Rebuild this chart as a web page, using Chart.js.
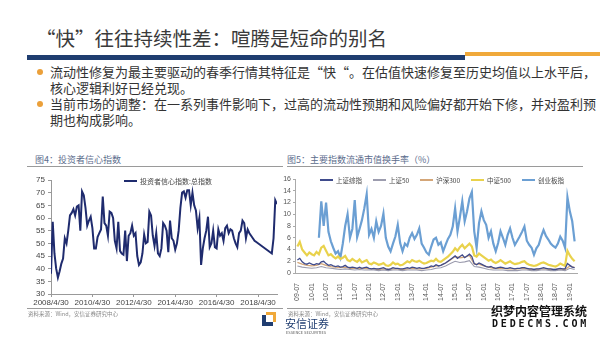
<!DOCTYPE html>
<html>
<head>
<meta charset="utf-8">
<script src="https://cdn.jsdelivr.net/npm/chart.js@4"></script>
<style>
    body { margin: 0; width: 600px; height: 338px; background: #fff; overflow: hidden; position: relative;
           font-family: "Noto Sans CJK SC", "Noto Sans", sans-serif; color: #333; }
    .abs { position: absolute; white-space: nowrap; }
    .title { left: 36px; top: 23px; font-size: 19.5px; color: #3a3a3a; }
    .bar-blue { left: 27px; top: 55px; width: 438px; height: 5px; background: #1f3d70; }
    .bar-orange { left: 465px; top: 52px; width: 135px; height: 4px; background: #f0a93a; }
    .dot { width: 6px; height: 6px; border-radius: 3px; background: #eba03a; }
    .bullet { left: 50px; font-size: 13px; line-height: 16px; color: #333; }
    .ctitle { font-size: 9px; color: #5b6c8c; top: 153px; }
    .rule { height: 1px; background: #9a9a9a; }
    .src { font-size: 5.5px; color: #888; top: 310px; }
    .legend { font-size: 6.5px; color: #444; display: flex; align-items: center; }
    .legend span.ln { display: inline-block; width: 13px; height: 1.5px; margin-right: 3px; }
    .legend .item { display: flex; align-items: center; margin-right: 11px; }
    canvas { position: absolute; }
</style>
</head>
<body>
<div class="abs title">“快”往往持续性差：喧腾是短命的别名</div>
<div class="abs bar-blue"></div>
<div class="abs bar-orange"></div>

<div class="abs dot" style="left:37px; top:69px;"></div>
<div class="abs bullet" style="top:64px;">流动性修复为最主要驱动的春季行情其特征是“快“。在估值快速修复至历史均值以上水平后，<br>核心逻辑利好已经兑现。</div>
<div class="abs dot" style="left:37px; top:101px;"></div>
<div class="abs bullet" style="top:96px;">当前市场的调整：在一系列事件影响下，过高的流动性预期和风险偏好都开始下修，并对盈利预<br>期也构成影响。</div>

<div class="abs ctitle" style="left:35px;">图4：投资者信心指数</div>
<div class="abs ctitle" style="left:287px;">图5：主要指数流通市值换手率（%）</div>
<div class="abs rule" style="left:27px; top:166px; width:256px;"></div>
<div class="abs rule" style="left:287px; top:166px; width:296px;"></div>

<canvas id="leftChart" style="left:0px; top:168px;" width="290" height="145"></canvas>
<canvas id="rightChart" style="left:280px; top:168px;" width="310" height="135"></canvas>

<div class="abs legend" id="leftLegend" style="left:124px; top:176px; font-size:7px;"></div>
<div class="abs legend" id="rightLegend" style="left:320px; top:175px;"></div>

<div class="abs rule" style="left:27px; top:308px; width:256px;"></div>
<div class="abs rule" style="left:287px; top:308px; width:296px;"></div>
<div class="abs src" style="left:28px;">资料来源：Wind，安信证券研究中心</div>
<div class="abs src" style="left:288px;">资料来源：Wind，安信证券研究中心</div>

<!-- logo -->
<div class="abs" style="left:262px; top:312px; width:14px; height:14px;">
    <div class="abs" style="left:0; top:3px; width:4px; height:11px; background:#1f3d70;"></div>
    <div class="abs" style="left:0; top:10px; width:11px; height:4px; background:#1f3d70;"></div>
    <div class="abs" style="left:4px; top:0; width:10px; height:3px; background:#f0a93a;"></div>
    <div class="abs" style="left:11px; top:0; width:3px; height:10px; background:#f0a93a;"></div>
</div>
<div class="abs" style="left:285px; top:315px; font-size:11px; color:#1f3d70;">安信证券</div>
<div class="abs" style="left:286px; top:329px; font-size:4px; color:#555;">ESSENCE SECURITIES</div>

<!-- watermark -->
<div class="abs" style="left:491px; top:302px; font-size:12px; font-weight:bold; color:#111; text-shadow:0 0 2px #fff;">织梦内容管理系统</div>
<div class="abs" style="left:492px; top:318px; font-size:10px; font-weight:bold; letter-spacing:2.8px; color:#111; font-family:'DejaVu Sans Mono', monospace;">DEDECMS.COM</div>

<script>
// 投资者信心指数:总指数, monthly from 2008/4 to 2019/3 (null = no data)
const confidence = [
    38, 58.5, 46, 40, 36.5, 39, 42, 44, 52, 50, 55, 61, 62, 63.5, 61, 64.5, 65, 55, 70.5, 69,
    64, 57, 59, 60.5, 56, 48, 48, 52.5, 54, 55.5, 68.5,
    58, 57, 53, 62.5, 62, 60, 51, 48, 58.5, 47,
    46, 45.5, 55, 43, 53, 54, 57, 53, 54, 45,
    41.5, 42.5, 46, 53.5, 50, 50.5, 62.5, 61, 53, 49,
    54, 46, 45, 48, 58, 57, 55, 46.5, 59, 52,
    51, 47.5, 50, 55, 64, 70, 70.5, 68, 71, 71,
    65, 70, 65, 63, 56, 60, 41.5, 48, 52, 55,
    60.5, 48.5, 50, 55, 48.5, 48, 55.5, 53, 54, 51,
    56, 57, 54, 55.5, 55, 52, 50, 48.5, 54, 55,
    59, 58, 52, 55.5, 54, 53, 52, 51, 50.5,
    null, null, null, null, null, null, null, null,
    46, 52, 67, 65.5
];
const leftTicks = ['2008/4/30', '2010/4/30', '2012/4/30', '2014/4/30', '2016/4/30', '2018/4/30'];
const leftSeriesName = '投资者信心指数:总指数';

// 换手率 (%), months since 2009-07
const rightTicks = ['09-07', '10-01', '10-07', '11-01', '11-07', '12-01', '12-07', '13-01', '13-07', '14-01',
                    '14-07', '15-01', '15-07', '16-01', '16-07', '17-01', '17-07', '18-01', '18-07', '19-01'];
const seriesNames = ['上证综指', '上证50', '沪深300', '中证500', '创业板指'];
const seriesColors = ['#3f4b8c', '#9c9cae', '#d4a678', '#e9d24c', '#6b9fd3'];

const szzz = [
    2.2, 2.5, 1.9, 1.6, 1.5, 1.7, 1.5, 1.4, 1.6, 1.5,
    1.9, 2.0, 1.6, 1.3, 1.4, 1.2, 1.1, 1.2, 1.0, 1.1,
    1.3, 1.0, 0.9, 1.0, 0.9, 0.8, 1.0, 0.8, 0.9, 1.0,
    0.8, 0.7, 0.8, 0.7, 0.7, 0.8, 0.9, 0.7, 0.6, 0.7,
    0.9, 0.8, 0.8, 0.7, 0.7, 0.8, 0.9, 0.8, 1.0, 0.9,
    0.8, 0.9, 0.8, 0.8, 0.9, 1.0, 1.2, 1.1, 1.4, 1.2,
    1.3, 1.5, 1.7, 2.0, 2.3, 2.6, 2.9, 2.5, 2.8, 3.1,
    2.6, 2.9, 3.2, 2.8, 1.6, 1.4, 1.7, 1.5, 1.3, 1.1,
    1.0, 1.1, 0.9, 0.8, 0.9, 1.0, 0.9, 0.8, 0.8, 0.9,
    0.8, 0.7, 0.8, 0.8, 0.9, 0.9, 0.8, 0.7, 0.7, 0.6,
    0.7, 0.7, 0.8, 0.9, 0.8, 0.7, 0.7, 0.6, 0.6, 0.7,
    0.8, 0.7, 0.7, 1.6, 1.3, 1.0, 0.9
];
// every two months
const sz50 = [
    1.2, 1.0, 0.9, 0.8, 0.9, 1.1, 0.9, 0.8, 0.7, 0.6,
    0.7, 0.6, 0.5, 0.6, 0.5, 0.5, 0.5, 0.4, 0.5, 0.4,
    0.5, 0.5, 0.4, 0.5, 0.5, 0.5, 0.4, 0.5, 0.6, 0.8,
    0.9, 1.2, 1.6, 2.0, 1.8, 1.9, 2.1, 1.1, 1.0, 0.8,
    0.6, 0.5, 0.5, 0.5, 0.4, 0.4, 0.4, 0.5, 0.5, 0.4,
    0.4, 0.5, 0.5, 0.4, 0.4, 0.5, 0.4, 0.8, 0.6
];
const hs300 = [
    1.8, 1.5, 1.3, 1.2, 1.3, 1.6, 1.3, 1.1, 1.0, 0.9,
    1.0, 0.8, 0.8, 0.8, 0.8, 0.7, 0.7, 0.6, 0.7, 0.6,
    0.7, 0.7, 0.6, 0.7, 0.8, 0.7, 0.7, 0.8, 1.0, 1.2,
    1.3, 1.7, 2.2, 2.8, 2.6, 2.7, 3.0, 1.5, 1.5, 1.2,
    1.0, 0.8, 0.8, 0.8, 0.7, 0.7, 0.7, 0.8, 0.7, 0.6,
    0.6, 0.7, 0.7, 0.6, 0.6, 0.7, 0.6, 1.2, 0.9
];
const zz500 = [
    4.5, 5.3, 4.0, 3.5, 3.0, 3.5, 3.2, 3.0, 3.6, 3.2,
    4.3, 4.6, 3.8, 3.0, 3.2, 2.8, 2.5, 2.8, 2.4, 2.6,
    2.9, 2.2, 2.0, 2.4, 2.1, 1.9, 2.3, 1.8, 2.0, 2.2,
    1.6, 1.5, 1.8, 1.6, 1.4, 1.5, 1.7, 1.3, 1.2, 1.4,
    1.8, 1.5, 1.6, 1.3, 1.4, 1.7, 2.0, 1.8, 2.2, 2.0,
    1.9, 2.1, 1.8, 1.6, 1.7, 1.9, 2.1, 2.0, 2.4, 2.0,
    1.9, 2.2, 2.5, 2.8, 3.2, 3.6, 4.2, 3.8, 4.4, 4.8,
    4.2, 4.6, 5.0, 4.5, 3.0, 2.8, 3.3, 3.0, 2.7, 2.4,
    2.1, 2.3, 1.9, 1.7, 1.9, 2.2, 1.9, 1.6, 1.8, 2.0,
    1.7, 1.5, 1.6, 1.7, 1.9, 2.0, 1.6, 1.4, 1.3, 1.2,
    1.3, 1.5, 1.7, 1.8, 1.6, 1.4, 1.3, 1.2, 1.1, 1.3,
    1.6, 1.4, 1.2, 3.8, 3.0, 2.4, 2.0
];
// 创业板指 starts 2010-06 (month 9)
const cyb = [
    6.0, 12.2, 8.0, 12.0, 7.0, 5.4, 4.3, 3.3, 3.7, 2.6,
    5.0, 8.0, 10.0, 6.0, 7.5, 12.4, 6.1, 7.5, 9.0, 11.0,
    13.4, 6.5, 7.5, 6.0, 8.8, 7.0, 8.0, 10.1, 6.0, 4.5,
    3.7, 5.0, 6.2, 8.2, 5.1, 3.7, 5.0, 4.6, 6.0, 6.8,
    5.8, 6.5, 7.6, 5.0, 4.3, 3.5, 3.1, 4.5, 5.7, 6.0,
    4.8, 5.2, 3.7, 4.8, 5.8, 6.5, 7.9, 11.0, 7.1, 9.5,
    12.2, 8.8, 10.5, 12.7, 13.8, 7.1, 4.3, 8.5, 10.5, 9.0,
    8.2, 6.0, 7.1, 5.0, 3.7, 5.1, 7.1, 6.0, 4.8, 6.5,
    7.6, 6.0, 4.8, 5.5, 6.2, 7.0, 7.9, 5.5, 4.8, 4.3,
    3.1, 4.2, 4.8, 6.2, 7.3, 6.3, 5.7, 5.0, 4.6, 4.3,
    5.0, 6.2, 5.5, 4.3, 12.9, 10.5, 8.8, 5.4
];

function toPoints(values, start, step) {
    return values.map((v, i) => ({ x: start + i * step, y: v }));
}

function fixWidth(w) { return function (scale) { scale.width = w; }; }
function fixHeight(h) { return function (scale) { scale.height = h; }; }

// Left: investor confidence
new Chart(document.getElementById('leftChart'), {
    type: 'line',
    data: {
        datasets: [{
            label: leftSeriesName,
            data: toPoints(confidence, 0, 1),
            borderColor: '#1f2b6e',
            borderWidth: 2,
            pointRadius: 0,
            tension: 0,
            spanGaps: true
        }]
    },
    options: {
        animation: false,
        responsive: false,
        layout: { padding: { top: 12, right: 13, left: 0, bottom: 0 } },
        plugins: { legend: { display: false }, tooltip: { enabled: false } },
        scales: {
            x: {
                type: 'linear',
                min: 0,
                max: 131,
                afterBuildTicks: scale => { scale.ticks = leftTicks.map((t, i) => ({ value: i * 24 })); },
                afterFit: fixHeight(19),
                ticks: {
                    callback: (v, i) => leftTicks[i],
                    font: { size: 8, family: 'Liberation Sans' },
                    color: '#444',
                    maxRotation: 0,
                    autoSkip: false,
                    padding: 1
                },
                grid: { drawOnChartArea: false, tickLength: 3, color: '#999' },
                border: { color: '#999' }
            },
            y: {
                min: 30,
                max: 75,
                afterFit: fixWidth(51),
                ticks: { stepSize: 5, font: { size: 8, family: 'Liberation Sans' }, color: '#444', padding: 3 },
                grid: { drawOnChartArea: false, tickLength: 3, color: '#999' },
                border: { color: '#999' }
            }
        }
    }
});

// Right: turnover
const rightData = [szzz, sz50, hs300, zz500, cyb];
const rightStart = [0, 0, 0, 0, 9];
const rightStep = [1, 2, 2, 1, 1];
const rightWidth = [1.3, 1.1, 1.3, 2.2, 2.2];

new Chart(document.getElementById('rightChart'), {
    type: 'line',
    data: {
        datasets: rightData.map((vals, k) => ({
            label: seriesNames[k],
            data: toPoints(vals, rightStart[k], rightStep[k]),
            borderColor: seriesColors[k],
            borderWidth: rightWidth[k],
            pointRadius: 0,
            tension: 0,
            order: k
        }))
    },
    options: {
        animation: false,
        responsive: false,
        layout: { padding: { top: 11, right: 13, left: 0, bottom: 0 } },
        plugins: { legend: { display: false }, tooltip: { enabled: false } },
        scales: {
            x: {
                type: 'linear',
                min: -1,
                max: 117,
                afterBuildTicks: scale => { scale.ticks = rightTicks.map((t, i) => ({ value: i * 6 })); },
                afterFit: fixHeight(30),
                ticks: {
                    callback: (v, i) => rightTicks[i],
                    font: { size: 7, family: 'Liberation Sans' },
                    color: '#555',
                    minRotation: 90,
                    maxRotation: 90,
                    autoSkip: false,
                    padding: 2
                },
                grid: { display: false },
                border: { color: '#aaa' }
            },
            y: {
                min: 0,
                max: 16,
                afterFit: fixWidth(15),
                ticks: { stepSize: 2, font: { size: 7, family: 'Liberation Sans' }, color: '#555', padding: 2 },
                grid: { drawOnChartArea: false, tickLength: 2, color: '#aaa' },
                border: { color: '#aaa' }
            }
        }
    }
});

// HTML legends
document.getElementById('leftLegend').innerHTML =
    '<div class="item"><span class="ln" style="background:#1f2b6e;height:2px;"></span>' + leftSeriesName + '</div>';
document.getElementById('rightLegend').innerHTML = seriesNames.map((n, k) =>
    '<div class="item"><span class="ln" style="background:' + seriesColors[k] + '"></span>' + n + '</div>'
).join('');
</script>
</body>
</html>
